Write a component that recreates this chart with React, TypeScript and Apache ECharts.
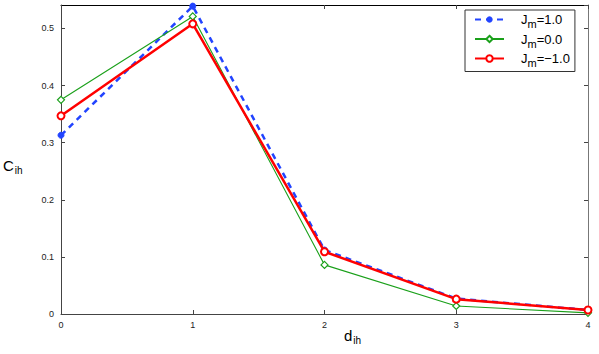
import React, { useEffect, useRef } from "react";
import * as echarts from "echarts";

const xValues = [0, 1, 2, 3, 4];
const seriesNames = ["Jm=1.0", "Jm=0.0", "Jm=-1.0"];
const jPos = [0.313, 0.539, 0.112, 0.027, 0.007];
const jZero = [0.375, 0.521, 0.086, 0.014, 0.002];
const jNeg = [0.347, 0.508, 0.109, 0.026, 0.007];
const legendLabels: Record<string, string> = {
  "Jm=1.0": "{b|J}{sub|m}{b|=1.0}",
  "Jm=0.0": "{b|J}{sub|m}{b|=0.0}",
  "Jm=-1.0": "{b|J}{sub|m}{b|=\u22121.0}",
};
const xAxisTitle = "d{sub|ih}";
const yAxisTitle = "C{sub|ih}";

const FONT = "Liberation Sans, Arial, Helvetica, sans-serif";

export default function App() {
  const ref = useRef<HTMLDivElement>(null);
  useEffect(() => {
    if (!ref.current) return;
    const chart = echarts.init(ref.current, null, { renderer: "svg" });
    const pair = (arr: number[]) => xValues.map((x, i) => [x, arr[i]]);
    const axisLineColor = "#444";
    const titleRich = {
      sub: { fontSize: 10, fontFamily: FONT, fill: "#000", padding: [9, 0, 0, 1] },
    };
    chart.setOption({
      animation: false,
      backgroundColor: "#fff",
      textStyle: { fontFamily: FONT },
      grid: { left: 61, right: 11, top: 5, bottom: 40, containLabel: false },
      graphic: [
        {
          type: "text",
          left: 3,
          top: 158,
          style: { text: yAxisTitle, fontSize: 15, fontFamily: FONT, fill: "#000", rich: titleRich },
        },
        {
          type: "text",
          left: 344,
          top: 328,
          style: { text: xAxisTitle, fontSize: 15, fontFamily: FONT, fill: "#000", rich: titleRich },
        },
      ],
      xAxis: [
        {
          type: "value",
          min: 0,
          max: 4,
          interval: 1,
          axisLine: { show: true, onZero: false, lineStyle: { color: axisLineColor, width: 1 } },
          axisTick: { show: true, inside: true, length: 4, lineStyle: { color: axisLineColor } },
          axisLabel: { color: "#222", fontSize: 9, fontFamily: FONT, margin: 6 },
          splitLine: { show: false },
        },
        {
          type: "value",
          position: "top",
          min: 0,
          max: 4,
          interval: 1,
          axisLine: { show: true, onZero: false, lineStyle: { color: "#000", width: 1 } },
          axisTick: { show: true, inside: true, length: 4, lineStyle: { color: axisLineColor } },
          axisLabel: { show: false },
          splitLine: { show: false },
        },
      ],
      yAxis: [
        {
          type: "value",
          min: 0,
          max: 0.541,
          interval: 0.1,
          axisLine: { show: true, onZero: false, lineStyle: { color: axisLineColor, width: 1 } },
          axisTick: { show: true, inside: true, length: 4, lineStyle: { color: axisLineColor } },
          axisLabel: {
            color: "#222",
            fontSize: 9,
            fontFamily: FONT,
            margin: 7,
            showMaxLabel: false,
            formatter: (v: number) => (v === 0 ? "0" : String(Math.round(v * 10) / 10)),
          },
          splitLine: { show: false },
        },
        {
          type: "value",
          position: "right",
          min: 0,
          max: 0.541,
          interval: 0.1,
          axisLine: { show: true, onZero: false, lineStyle: { color: "#777", width: 1 } },
          axisTick: { show: true, inside: true, length: 4, lineStyle: { color: axisLineColor } },
          axisLabel: { show: false },
          splitLine: { show: false },
        },
      ],
      legend: {
        orient: "vertical",
        left: 465,
        top: 10,
        padding: [3, 5, 3, 9],
        itemGap: 3,
        itemWidth: 29,
        itemHeight: 8,
        borderColor: "#333",
        borderWidth: 1,
        backgroundColor: "#fff",
        data: seriesNames,
        formatter: (name: string) => legendLabels[name] || name,
        textStyle: {
          fontSize: 13,
          color: "#000",
          fontFamily: FONT,
          padding: [0, 0, 0, 12],
          rich: {
            b: { fontSize: 13, fontFamily: FONT, color: "#000" },
            sub: { fontSize: 11, fontFamily: FONT, color: "#000", padding: [9, 0, 0, 0] },
          },
        },
      },
      series: [
        {
          name: seriesNames[0],
          type: "line",
          data: pair(jPos),
          clip: false,
          symbol: "circle",
          symbolSize: 6,
          itemStyle: { color: "#2244ff", borderColor: "#2244ff" },
          lineStyle: { color: "#2244ff", width: 2.5, type: [6, 5] },
          z: 2,
        },
        {
          name: seriesNames[1],
          type: "line",
          data: pair(jZero),
          clip: false,
          symbol: "diamond",
          symbolSize: 7,
          itemStyle: { color: "#fff", borderColor: "#1aa01a", borderWidth: 1.2 },
          lineStyle: { color: "#1aa01a", width: 1.1 },
          z: 3,
        },
        {
          name: seriesNames[2],
          type: "line",
          data: pair(jNeg),
          clip: false,
          symbol: "circle",
          symbolSize: 7,
          itemStyle: { color: "#fff", borderColor: "#ff0000", borderWidth: 2 },
          lineStyle: { color: "#ff0000", width: 2.5 },
          z: 4,
        },
      ],
    });
    return () => chart.dispose();
  }, []);
  return <div ref={ref} style={{ width: 599, height: 354, position: "absolute", left: 0, top: 0 }} />;
}
